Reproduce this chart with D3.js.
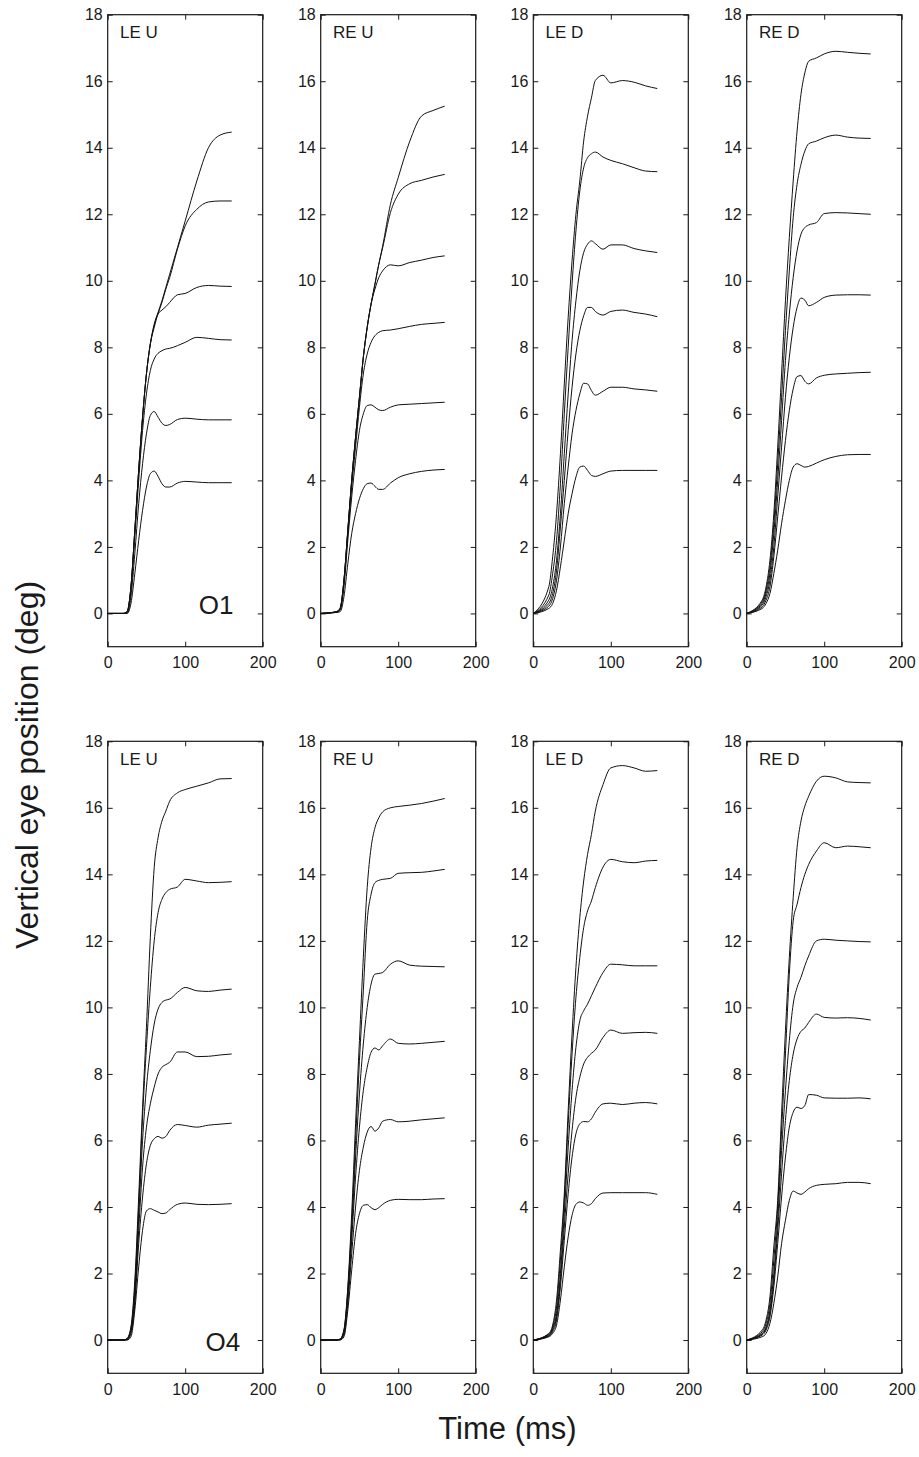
<!DOCTYPE html>
<html>
<head>
<meta charset="utf-8">
<script src="https://cdn.jsdelivr.net/npm/d3@7"></script>
<style>
  body { margin: 0; background: #fff; }
  svg { display: block; font-family: 'Liberation Sans', Arial, Helvetica, sans-serif; }
</style>
</head>
<body>
<svg id="fig" width="919" height="1457"></svg>
<script>
// sample times (ms) shared by every trace
const time = [0, 20, 25, 30, 35, 40, 45, 50, 55, 60, 65, 70, 75, 80, 90, 100, 115, 130, 145, 160]

const panelNames = ['LE U', 'RE U', 'LE D', 'RE D']
const subjects = ['O1', 'O4']
const xTicks = [0, 100, 200]
const yTicks = [0, 2, 4, 6, 8, 10, 12, 14, 16, 18]

// subject O1
const o1LeU = [
  [0, 0, 0, 0.3, 1.2, 2.2, 3.1, 3.8, 4.2, 4.28, 4.12, 3.9, 3.8, 3.8, 3.92, 3.97, 3.95, 3.93, 3.93, 3.93],
  [0, 0, 0, 0.5, 1.8, 3.3, 4.5, 5.4, 5.95, 6.07, 5.9, 5.72, 5.65, 5.68, 5.83, 5.87, 5.84, 5.82, 5.82, 5.82],
  [0, 0, 0.03, 0.7, 2.3, 4.0, 5.5, 6.6, 7.3, 7.65, 7.82, 7.9, 7.95, 7.97, 8.05, 8.15, 8.3, 8.27, 8.23, 8.22],
  [0, 0, 0.05, 0.8, 2.5, 4.3, 5.9, 7.2, 8.1, 8.6, 9.0, 9.12, 9.22, 9.35, 9.58, 9.62, 9.8, 9.86, 9.84, 9.83],
  [0, 0, 0.05, 0.8, 2.5, 4.3, 5.9, 7.2, 8.1, 8.65, 9.02, 9.35, 9.75, 10.1, 10.95, 11.65, 12.15, 12.37, 12.4, 12.4],
  [0, 0, 0.05, 0.8, 2.5, 4.3, 5.9, 7.2, 8.1, 8.7, 9.05, 9.4, 9.8, 10.2, 11.0, 11.8, 13.0, 14.0, 14.38, 14.47]
]
const o1ReU = [
  [0, 0.03, 0.05, 0.5, 1.5, 2.4, 3.0, 3.45, 3.75, 3.9, 3.92, 3.82, 3.73, 3.73, 3.92, 4.08, 4.2, 4.27, 4.31, 4.33],
  [0, 0.03, 0.1, 0.8, 2.2, 3.5, 4.6, 5.5, 6.0, 6.25, 6.27, 6.2, 6.12, 6.1, 6.2, 6.27, 6.29, 6.31, 6.33, 6.35],
  [0, 0.04, 0.12, 0.9, 2.4, 3.8, 5.0, 6.2, 7.2, 7.8, 8.15, 8.35, 8.45, 8.5, 8.52, 8.56, 8.63, 8.69, 8.72, 8.75],
  [0, 0.05, 0.15, 1.0, 2.5, 4.0, 5.3, 6.5, 7.7, 8.6, 9.3, 9.75, 10.1, 10.3, 10.48, 10.45, 10.55, 10.62, 10.7, 10.75],
  [0, 0.05, 0.15, 1.0, 2.5, 4.0, 5.3, 6.5, 7.7, 8.6, 9.3, 9.9, 10.5, 11.0, 12.05, 12.6, 12.92, 13.02, 13.12, 13.2],
  [0, 0.05, 0.15, 1.0, 2.5, 4.0, 5.3, 6.5, 7.7, 8.6, 9.3, 9.9, 10.5, 11.05, 12.3, 13.1, 14.2, 14.95, 15.12, 15.25]
]
const o1LeD = [
  [0, 0.15, 0.3, 0.7, 1.4, 2.2, 3.0, 3.6, 4.1, 4.4, 4.43, 4.3, 4.15, 4.12, 4.2, 4.28, 4.3, 4.3, 4.3, 4.3],
  [0, 0.22, 0.45, 1.0, 2.0, 3.3, 4.4, 5.4, 6.1, 6.6, 6.92, 6.9, 6.7, 6.56, 6.68, 6.8, 6.8, 6.75, 6.72, 6.68],
  [0, 0.3, 0.6, 1.3, 2.6, 4.0, 5.5, 6.8, 7.8, 8.5, 8.95, 9.2, 9.2, 9.08, 8.97, 9.08, 9.12, 9.05, 9.0, 8.92],
  [0, 0.4, 0.8, 1.6, 3.0, 4.8, 6.6, 8.2, 9.4, 10.3, 10.85, 11.1, 11.2, 11.12, 10.95, 11.08, 11.08, 10.97, 10.9, 10.85],
  [0, 0.55, 1.2, 2.2, 3.9, 6.0, 8.0, 9.9, 11.5, 12.7, 13.4, 13.7, 13.82, 13.87, 13.72, 13.62, 13.52, 13.4, 13.3, 13.28],
  [0, 0.8, 1.7, 3.0, 4.8, 6.9, 8.9, 10.6, 12.0, 13.0, 14.2, 14.95, 15.5, 16.02, 16.18, 15.95, 16.02, 15.97, 15.86, 15.78]
]
const o1ReD = [
  [0, 0.15, 0.3, 0.6, 1.2, 1.9, 2.7, 3.4, 4.0, 4.4, 4.5, 4.45, 4.4, 4.42, 4.52, 4.62, 4.72, 4.77, 4.78, 4.78],
  [0, 0.2, 0.4, 0.8, 1.7, 2.9, 4.1, 5.2, 6.1, 6.75, 7.12, 7.15, 6.98, 6.9, 7.08, 7.16, 7.2, 7.22, 7.24, 7.25],
  [0, 0.25, 0.5, 1.0, 2.0, 3.5, 5.0, 6.5, 7.7, 8.6, 9.2, 9.48, 9.42, 9.25, 9.35, 9.5, 9.57, 9.58, 9.58, 9.57],
  [0, 0.3, 0.6, 1.2, 2.4, 4.0, 5.8, 7.6, 9.0, 10.1, 10.9, 11.4, 11.6, 11.68, 11.75, 12.02, 12.05, 12.04, 12.02, 12.0],
  [0, 0.35, 0.7, 1.4, 2.7, 4.5, 6.5, 8.5, 10.3, 11.9, 12.9, 13.5, 13.9, 14.12, 14.2, 14.3, 14.38, 14.32, 14.29, 14.28],
  [0, 0.4, 0.8, 1.6, 3.0, 5.0, 7.2, 9.4, 11.3, 13.0, 14.5, 15.6, 16.25, 16.6, 16.7, 16.82, 16.9, 16.87, 16.84, 16.82]
]

// subject O4
const o4LeU = [
  [0, 0, 0, 0.1, 0.9, 2.2, 3.3, 3.88, 3.95, 3.9, 3.85, 3.8, 3.82, 3.92, 4.08, 4.12, 4.08, 4.07, 4.08, 4.1],
  [0, 0, 0.01, 0.2, 1.1, 2.9, 4.3, 5.3, 5.85, 6.05, 6.12, 6.07, 6.12, 6.3, 6.48, 6.45, 6.4, 6.46, 6.49, 6.52],
  [0, 0, 0.02, 0.25, 1.2, 3.3, 5.2, 6.4, 7.1, 7.6, 8.0, 8.2, 8.28, 8.35, 8.66, 8.66, 8.52, 8.53, 8.57, 8.6],
  [0, 0, 0.03, 0.3, 1.4, 3.7, 6.0, 7.6, 8.7, 9.5, 9.95, 10.15, 10.22, 10.25, 10.45, 10.6, 10.5, 10.48, 10.52, 10.55],
  [0, 0, 0.04, 0.35, 1.6, 4.0, 6.7, 8.8, 10.6, 12.0, 12.85, 13.25, 13.45, 13.55, 13.62, 13.85, 13.8, 13.75, 13.76, 13.78],
  [0, 0, 0.05, 0.4, 1.8, 4.3, 7.0, 9.4, 12.1, 14.2, 15.1, 15.6, 15.9, 16.2, 16.45, 16.55, 16.65, 16.75, 16.87, 16.88]
]
const o4ReU = [
  [0, 0, 0, 0.1, 0.9, 2.1, 3.2, 3.8, 4.05, 4.07, 3.98, 3.92, 3.98, 4.08, 4.2, 4.23, 4.22, 4.22, 4.24, 4.25],
  [0, 0, 0.01, 0.15, 1.1, 2.6, 4.0, 5.1, 5.8, 6.25, 6.42, 6.28, 6.38, 6.58, 6.63, 6.56, 6.58, 6.62, 6.65, 6.68],
  [0, 0, 0.02, 0.2, 1.3, 3.0, 4.9, 6.4, 7.5, 8.2, 8.65, 8.78, 8.72, 8.85, 9.05, 8.92, 8.9, 8.92, 8.95, 8.98],
  [0, 0, 0.02, 0.25, 1.4, 3.3, 5.5, 7.4, 8.9, 10.0, 10.7, 11.0, 11.02, 11.05, 11.3, 11.4, 11.27, 11.24, 11.23, 11.22],
  [0, 0, 0.03, 0.3, 1.5, 3.5, 6.0, 8.4, 10.5, 12.6, 13.4, 13.75, 13.82, 13.85, 13.88, 14.03, 14.05, 14.06, 14.1, 14.15],
  [0, 0, 0.03, 0.3, 1.6, 3.8, 6.5, 9.0, 11.5, 13.6, 14.8, 15.4, 15.7, 15.88, 16.0, 16.04, 16.08, 16.13, 16.2, 16.28]
]
const o4LeD = [
  [0, 0.1, 0.2, 0.45, 1.2, 2.2, 3.1, 3.75, 4.08, 4.15, 4.12, 4.05, 4.1, 4.25, 4.42, 4.43, 4.43, 4.43, 4.43, 4.38],
  [0, 0.12, 0.25, 0.6, 1.6, 3.0, 4.4, 5.5, 6.2, 6.5, 6.57, 6.56, 6.65, 6.85, 7.1, 7.12, 7.08, 7.12, 7.14, 7.1],
  [0, 0.13, 0.3, 0.7, 1.8, 3.4, 5.0, 6.3, 7.3, 7.9, 8.3, 8.5, 8.62, 8.72, 9.1, 9.32, 9.22, 9.24, 9.25, 9.22],
  [0, 0.15, 0.35, 0.8, 2.0, 3.8, 5.8, 7.5, 8.8, 9.6, 9.9, 10.1, 10.35, 10.6, 11.05, 11.3, 11.28, 11.25, 11.25, 11.25],
  [0, 0.18, 0.4, 1.0, 2.4, 4.2, 6.5, 8.6, 10.3, 11.5, 12.4, 12.9, 13.2, 13.6, 14.22, 14.45, 14.38, 14.35, 14.4, 14.42],
  [0, 0.2, 0.45, 1.2, 2.7, 4.4, 6.9, 9.2, 11.2, 12.7, 13.8, 14.6, 15.2, 15.9, 16.7, 17.2, 17.27, 17.2, 17.1, 17.12]
]
const o4ReD = [
  [0, 0.1, 0.2, 0.5, 1.1, 1.9, 2.9, 3.6, 4.2, 4.48, 4.42, 4.38, 4.45, 4.55, 4.65, 4.68, 4.7, 4.74, 4.74, 4.7],
  [0, 0.15, 0.3, 0.7, 1.6, 2.9, 4.3, 5.5, 6.4, 6.85, 7.0, 6.96, 7.05, 7.38, 7.36, 7.28, 7.27, 7.27, 7.28, 7.25],
  [0, 0.18, 0.35, 0.8, 1.8, 3.3, 5.0, 6.6, 7.8, 8.6, 9.05, 9.28, 9.38, 9.55, 9.8, 9.7, 9.68, 9.69, 9.67, 9.62],
  [0, 0.2, 0.4, 0.9, 2.0, 3.6, 5.7, 7.5, 9.0, 10.1, 10.6, 10.9, 11.25, 11.55, 12.0, 12.05, 12.02, 12.0, 11.98, 11.97],
  [0, 0.25, 0.5, 1.1, 2.4, 4.0, 6.3, 8.6, 11.0, 12.6, 13.1, 13.6, 14.0, 14.3, 14.7, 14.95, 14.8, 14.85, 14.83, 14.8],
  [0, 0.3, 0.6, 1.3, 2.8, 4.2, 6.8, 9.3, 11.5, 13.3, 14.8, 15.6, 16.05, 16.35, 16.8, 16.95, 16.9, 16.78, 16.76, 16.75]
]

const traces = [[o1LeU, o1ReU, o1LeD, o1ReD], [o4LeU, o4ReU, o4LeD, o4ReD]]

// layout
const pw = 155
const ph = 632
const colLeft = [107.7, 320.7, 533.3, 746.7]
const rowTop = [14.7, 741.3]
const ink = '#1a1a1a'

const svg = d3.select('#fig')
svg.append('rect').attr('width', 919).attr('height', 1457).attr('fill', '#fff')

const x = d3.scaleLinear().domain([0, 200]).range([0, pw])
const y = d3.scaleLinear().domain([-1, 18]).range([ph, 0])

const line = d3.line()
  .x((d, i) => x(time[i]))
  .y(d => y(d))
  .curve(d3.curveMonotoneX)

const tidy = g => {
  g.select('.domain').remove()
  g.selectAll('line').attr('stroke', ink)
  g.selectAll('text').attr('fill', ink).attr('font-size', 16)
}

subjects.forEach((subj, r) => {
  panelNames.forEach((name, c) => {
    let p = svg.append('g')
      .attr('transform', 'translate(' + colLeft[c] + ',' + rowTop[r] + ')')

    p.append('g').call(d3.axisLeft(y).tickValues(yTicks).tickSize(-5).tickPadding(5)).call(tidy)
    p.append('g').attr('transform', 'translate(' + pw + ',0)')
      .call(d3.axisRight(y).tickValues(yTicks).tickSize(-5).tickFormat('')).call(tidy)
    p.append('g').attr('transform', 'translate(0,' + ph + ')')
      .call(d3.axisBottom(x).tickValues(xTicks).tickSize(-5).tickPadding(10)).call(tidy)
    p.append('g')
      .call(d3.axisTop(x).tickValues(xTicks).tickSize(-5).tickFormat('')).call(tidy)

    p.append('rect')
      .attr('width', pw).attr('height', ph)
      .attr('fill', 'none').attr('stroke', ink).attr('stroke-width', 1.2)

    p.selectAll('path.trace')
      .data(traces[r][c])
      .enter()
      .append('path')
      .attr('class', 'trace')
      .attr('d', line)
      .attr('fill', 'none')
      .attr('stroke', '#111')
      .attr('stroke-width', 1)

    p.append('text')
      .text(name)
      .attr('x', 12.3).attr('y', 23.6)
      .attr('font-size', 17).attr('fill', ink)

    if (c === 0) {
      p.append('text')
        .text(subj)
        .attr('x', r === 0 ? 91 : 97.8)
        .attr('y', y(0) + (r === 0 ? 0.6 : 10.7))
        .attr('font-size', 26).attr('fill', ink)
    }
  })
})

svg.append('text')
  .text('Vertical eye position (deg)')
  .attr('transform', 'translate(38,765) rotate(-90)')
  .attr('text-anchor', 'middle')
  .attr('font-size', 32).attr('fill', ink)

svg.append('text')
  .text('Time (ms)')
  .attr('x', 507.5).attr('y', 1439)
  .attr('text-anchor', 'middle')
  .attr('font-size', 31).attr('fill', ink)
</script>
</body>
</html>
